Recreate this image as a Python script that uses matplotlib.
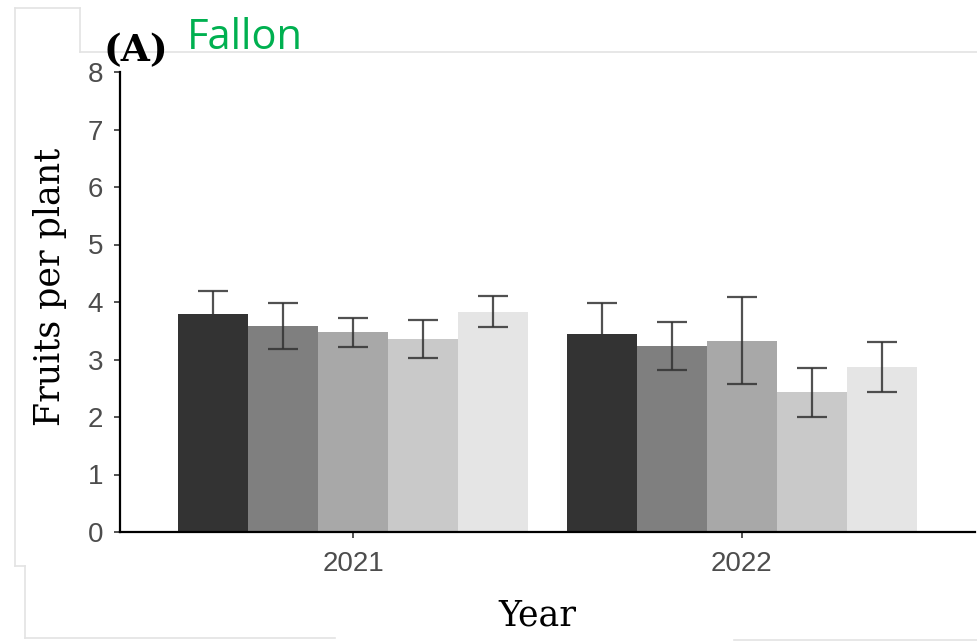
import matplotlib
matplotlib.use("Agg")
import matplotlib.pyplot as plt
from matplotlib.lines import Line2D
import numpy as np

# Data: mean fruits per plant with standard errors, five treatments per year
years = ["2021", "2022"]
treatments = ["T1", "T2", "T3", "T4", "T5"]
means_2021 = [3.80, 3.59, 3.47, 3.36, 3.83]
se_2021 = [0.40, 0.40, 0.26, 0.33, 0.27]
means_2022 = [3.44, 3.24, 3.33, 2.43, 2.87]
se_2022 = [0.55, 0.42, 0.75, 0.43, 0.44]
fill_colors = ["#333333", "#7f7f7f", "#a8a8a8", "#c9c9c9", "#e5e5e5"]
y_ticks = [0, 1, 2, 3, 4, 5, 6, 7, 8]

means = np.array([means_2021, means_2022])
ses = np.array([se_2021, se_2022])

W, H = 978, 642
fig = plt.figure(figsize=(W / 100, H / 100), dpi=100)
ax = fig.add_axes([120 / W, 110 / H, 855 / W, 460 / H])

group_pos = np.arange(1, len(years) + 1)
n = len(treatments)
width = 0.9 / n
for i in range(n):
    xpos = group_pos - 0.45 + width * (i + 0.5)
    ax.bar(xpos, means[:, i], width=width, color=fill_colors[i],
           edgecolor="none", zorder=2)
    ax.errorbar(xpos, means[:, i], yerr=ses[:, i], fmt="none",
                ecolor="#333333", elinewidth=1.6, capsize=11,
                capthick=1.6, alpha=0.85, zorder=3)

ax.set_xlim(0.4, 2.6)
ax.set_ylim(0, 8)
ax.set_xticks(group_pos)
ax.set_xticklabels(years)
ax.set_yticks(y_ticks)
ax.set_yticklabels([str(t) for t in y_ticks])

for side in ("top", "right"):
    ax.spines[side].set_visible(False)
for side in ("left", "bottom"):
    ax.spines[side].set_linewidth(1.6)
    ax.spines[side].set_color("black")

ax.tick_params(axis="both", length=4, width=1.2, color="#333333",
               labelcolor="#4d4d4d", labelsize=20)
ax.tick_params(axis="y", pad=8)
ax.tick_params(axis="x", pad=10)
for lab in ax.get_xticklabels() + ax.get_yticklabels():
    lab.set_fontfamily("Liberation Sans")

# Axis titles
fig.text(50 / W, 1 - 287 / H, "Fruits per plant", fontfamily="DejaVu Serif",
         fontsize=25, color="black", rotation=90, ha="center", va="center")
fig.text(537 / W, 1 - 616 / H, "Year", fontfamily="DejaVu Serif",
         fontsize=25, color="black", ha="center", va="center")

# Panel tag and site name
fig.text(104 / W, 1 - 61 / H, "(A)", fontfamily="DejaVu Serif",
         fontweight="bold", fontsize=27, color="black", va="baseline")
fig.text(187 / W, 1 - 49 / H, "Fallon", fontfamily="Open Sans",
         fontsize=30, color="#00b050", va="baseline")

# Faint page border lines
border = "#e3e3e3"
segments = [
    ([15, 80], [8, 8]),
    ([15, 15], [8, 566]),
    ([80, 80], [8, 52]),
    ([80, 978], [52, 52]),
    ([15, 25], [566, 566]),
    ([25, 25], [566, 638]),
    ([25, 335], [638, 638]),
    ([734, 978], [640, 640]),
]
for xs, ys in segments:
    fig.add_artist(Line2D([x / W for x in xs], [1 - y / H for y in ys],
                          color=border, linewidth=1.2, transform=fig.transFigure,
                          zorder=0))

fig.savefig("out.png", dpi=100)
